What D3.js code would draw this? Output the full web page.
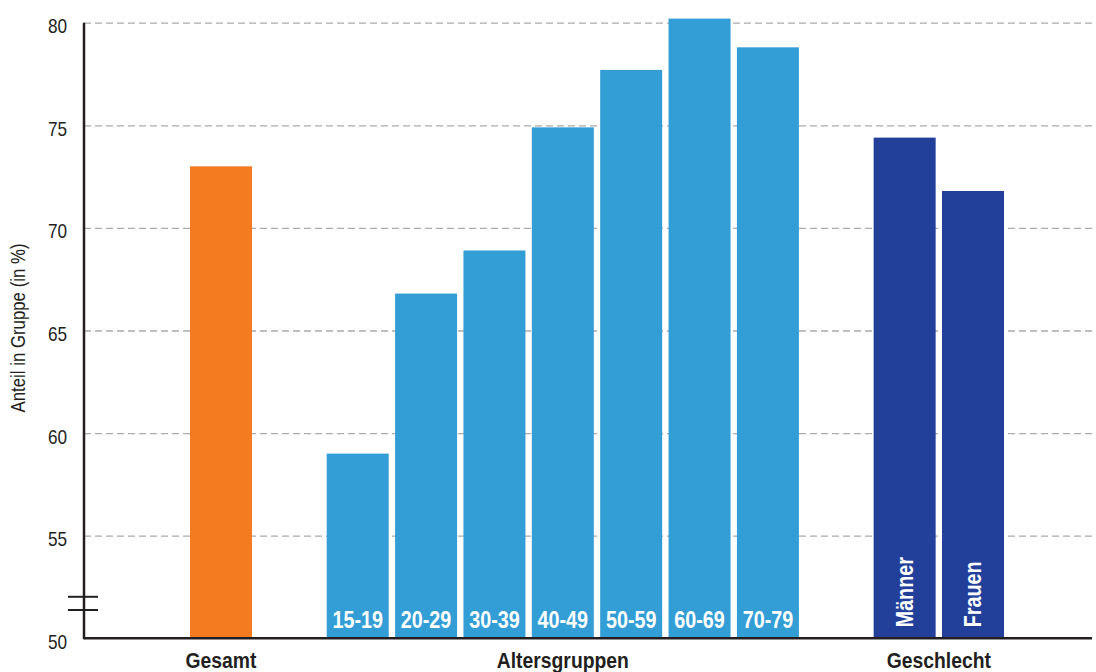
<!DOCTYPE html>
<html>
<head>
<meta charset="utf-8">
<script src="https://cdn.jsdelivr.net/npm/d3@7"></script>
<style>
  html, body { margin: 0; padding: 0; background: #fff; }
  svg { display: block; font-family: "Liberation Sans", Arial, sans-serif; }
</style>
</head>
<body>
<svg id="chart" width="1096" height="672"></svg>
<script>
// ---- data ----
const groups = ["Gesamt", "Altersgruppen", "Geschlecht"];
const categories = ["Gesamt", "15-19", "20-29", "30-39", "40-49", "50-59", "60-69", "70-79", "Männer", "Frauen"];
const categoryGroup = [0, 1, 1, 1, 1, 1, 1, 1, 2, 2];
const values = [73.0, 59.0, 66.8, 68.9, 74.9, 77.7, 80.2, 78.8, 74.4, 71.8];
const yTicks = [50, 55, 60, 65, 70, 75, 80];
const yTitle = "Anteil in Gruppe (in %)";

// ---- styles ----
const groupColors = ["#F47B20", "#339DD6", "#22409A"];
const groupLabelMode = ["none", "horizontal", "vertical"];
const NARROW = 0.82;

const svg = d3.select("#chart");

// slots: categories with an empty slot between groups
const slots = [];
groups.forEach((g, gi) => {
  if (gi > 0) slots.push("__gap" + gi);
  categories.forEach((c, ci) => { if (categoryGroup[ci] === gi) slots.push(c); });
});

const x = d3.scaleBand()
  .domain(slots)
  .range([186.8, 1007.2])
  .paddingInner(0.093)
  .paddingOuter(0.0465);

const y = d3.scaleLinear().domain([50, 80]).range([638.3, 22.7]);

const axisX = 84;
const rightEdge = 1092;

// gridlines
const grid = svg.append("g")
  .attr("transform", `translate(${axisX},0)`)
  .call(d3.axisRight(y).tickValues(yTicks.filter(t => t > 50)).tickSize(rightEdge - axisX).tickFormat(""));
grid.select(".domain").remove();
grid.selectAll(".tick line")
  .attr("stroke", "#ababab")
  .attr("stroke-width", 1.3)
  .attr("stroke-dasharray", "7,4");

// bars
const data = categories.map((c, i) => ({ c, v: values[i], g: categoryGroup[i] }));
svg.append("g").selectAll("rect")
  .data(data)
  .join("rect")
  .attr("x", d => x(d.c))
  .attr("width", x.bandwidth())
  .attr("y", d => y(d.v))
  .attr("height", d => y(50) - y(d.v))
  .attr("fill", d => groupColors[d.g]);

// labels in bars
const lab = svg.append("g").attr("fill", "#fff").attr("font-weight", "bold");
data.filter(d => groupLabelMode[d.g] === "horizontal").forEach(d => {
  lab.append("text")
    .attr("transform", `translate(${x(d.c) + x.bandwidth() / 2},${y(50) - 10}) scale(0.84,1)`)
    .attr("text-anchor", "middle")
    .attr("font-size", 23.5)
    .text(d.c);
});
data.filter(d => groupLabelMode[d.g] === "vertical").forEach(d => {
  lab.append("text")
    .attr("transform", `translate(${x(d.c) + x.bandwidth() / 2 + 8},${y(50) - 11}) rotate(-90) scale(0.84,1)`)
    .attr("text-anchor", "start")
    .attr("font-size", 23.5)
    .text(d.c);
});

// y axis with labels
const yAxis = svg.append("g")
  .attr("transform", `translate(${axisX},0)`)
  .call(d3.axisLeft(y).tickValues(yTicks).tickSize(0).tickFormat(d3.format("d")));
yAxis.select(".domain").remove();
yAxis.selectAll(".tick text")
  .attr("x", null).attr("dy", null)
  .attr("transform", `translate(-17,10) scale(0.86,1)`)
  .attr("text-anchor", "end")
  .attr("font-size", 20)
  .attr("font-family", "Liberation Sans, Arial, sans-serif")
  .attr("fill", "#231f20");

// axis lines
svg.append("line")
  .attr("x1", axisX).attr("x2", axisX)
  .attr("y1", y(80)).attr("y2", y(50) + 1)
  .attr("stroke", "#231f20").attr("stroke-width", 2.5);
svg.append("line")
  .attr("x1", axisX).attr("x2", rightEdge)
  .attr("y1", y(50)).attr("y2", y(50))
  .attr("stroke", "#231f20").attr("stroke-width", 2.5);

// axis break marks
[y(50) - 41.5, y(50) - 28.3].forEach(yy => {
  svg.append("line")
    .attr("x1", axisX - 16).attr("x2", axisX + 14)
    .attr("y1", yy).attr("y2", yy)
    .attr("stroke", "#231f20").attr("stroke-width", 2);
});

// group labels
groups.forEach((g, gi) => {
  const cs = categories.filter((c, ci) => categoryGroup[ci] === gi);
  const cx = d3.mean(cs, c => x(c) + x.bandwidth() / 2);
  svg.append("text")
    .attr("transform", `translate(${cx},668) scale(0.86,1)`)
    .attr("text-anchor", "middle")
    .attr("font-size", 22.5)
    .attr("font-weight", "bold")
    .attr("fill", "#231f20")
    .text(g);
});

// y title
svg.append("text")
  .attr("transform", `translate(25,328) rotate(-90) scale(${NARROW},1)`)
  .attr("text-anchor", "middle")
  .attr("font-size", 20.5)
  .attr("fill", "#231f20")
  .text(yTitle);
</script>
</body>
</html>
